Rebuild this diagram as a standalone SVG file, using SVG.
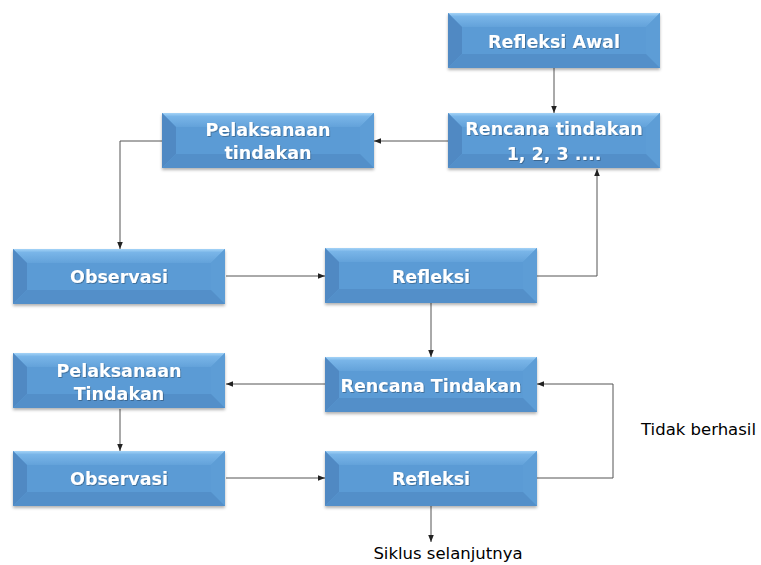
<svg xmlns="http://www.w3.org/2000/svg" xmlns:xlink="http://www.w3.org/1999/xlink" width="761" height="565" viewBox="0 0 761 565">
<style>
.t{font-family:"DejaVu Sans","Liberation Sans",sans-serif;font-weight:bold;font-size:17.5px;fill:#ffffff;text-anchor:middle;filter:url(#ts)}
.l{font-family:"DejaVu Sans","Liberation Sans",sans-serif;font-size:16.5px;fill:#000000}
.c{fill:none;stroke:#555555;stroke-width:1}
</style>
<defs>
<filter id="sh" x="-5%" y="-10%" width="110%" height="130%">
<feDropShadow dx="0" dy="2" stdDeviation="1.5" flood-color="#000" flood-opacity="0.3"/>
</filter>
<filter id="ts" x="-5%" y="-20%" width="110%" height="140%">
<feDropShadow dx="0.8" dy="0.8" stdDeviation="0.5" flood-color="#000" flood-opacity="0.35"/>
</filter>
<linearGradient id="tg" x1="0" y1="0" x2="0" y2="1">
<stop offset="0" stop-color="#a4d3f7"/>
<stop offset="0.25" stop-color="#79b5e8"/>
<stop offset="1" stop-color="#63a2da"/>
</linearGradient>
<marker id="ah" viewBox="0 0 10 10" refX="10" refY="5" markerWidth="7" markerHeight="7" orient="auto" markerUnits="userSpaceOnUse">
<path d="M0,1 L10,5 L0,9 Z" fill="#222"/>
</marker>
<g id="box">
<rect x="0" y="0" width="212" height="55" fill="#5b9bd5" filter="url(#sh)"/>
<polygon points="0,0 212,0 198,14 14,14" fill="url(#tg)"/>
<polygon points="0,0 14,14 14,41 0,55" fill="#5089c3"/>
<polygon points="212,0 212,55 198,41 198,14" fill="#5d9dd6"/>
<polygon points="0,55 14,41 198,41 212,55" fill="#538fc9"/>
<rect x="14" y="14" width="184" height="27" fill="#5b9bd5"/>
</g>
</defs>
<rect width="761" height="565" fill="#ffffff"/>
<g id="connectors">
<line class="c" x1="554" y1="68" x2="554" y2="113" marker-end="url(#ah)"/>
<line class="c" x1="448" y1="141" x2="374" y2="141" marker-end="url(#ah)"/>
<polyline class="c" points="162,141 120,141 120,249" marker-end="url(#ah)"/>
<line class="c" x1="226" y1="276" x2="325" y2="276" marker-end="url(#ah)"/>
<polyline class="c" points="537,276 597,276 597,169" marker-end="url(#ah)"/>
<line class="c" x1="431" y1="303" x2="431" y2="357" marker-end="url(#ah)"/>
<line class="c" x1="325" y1="384" x2="226" y2="384" marker-end="url(#ah)"/>
<line class="c" x1="120" y1="409" x2="120" y2="451" marker-end="url(#ah)"/>
<line class="c" x1="226" y1="478" x2="325" y2="478" marker-end="url(#ah)"/>
<polyline class="c" points="537,478 613,478 613,384 537,384" marker-end="url(#ah)"/>
<line class="c" x1="431" y1="506" x2="431" y2="542" marker-end="url(#ah)"/>
</g>
<g id="n1" transform="translate(448,13)"><use xlink:href="#box"/><text class="t" x="106" y="35">Refleksi Awal</text></g>
<g id="n2" transform="translate(448,113)"><use xlink:href="#box"/><text class="t" x="106" y="22">Rencana tindakan</text><text class="t" x="106" y="47">1, 2, 3 ....</text></g>
<g id="n3" transform="translate(162,113)"><use xlink:href="#box"/><text class="t" x="106" y="23">Pelaksanaan</text><text class="t" x="106" y="46">tindakan</text></g>
<g id="n4" transform="translate(13,249)"><use xlink:href="#box"/><text class="t" x="106" y="34">Observasi</text></g>
<g id="n5" transform="translate(325,248)"><use xlink:href="#box"/><text class="t" x="106" y="35">Refleksi</text></g>
<g id="n6" transform="translate(325,357)"><use xlink:href="#box"/><text class="t" x="106" y="35">Rencana Tindakan</text></g>
<g id="n7" transform="translate(13,353)"><use xlink:href="#box"/><text class="t" x="106" y="24">Pelaksanaan</text><text class="t" x="106" y="47">Tindakan</text></g>
<g id="n8" transform="translate(13,451)"><use xlink:href="#box"/><text class="t" x="106" y="34">Observasi</text></g>
<g id="n9" transform="translate(325,451)"><use xlink:href="#box"/><text class="t" x="106" y="34">Refleksi</text></g>
<text class="l" x="641" y="435">Tidak berhasil</text>
<text class="l" x="448" y="559" text-anchor="middle">Siklus selanjutnya</text>
</svg>
